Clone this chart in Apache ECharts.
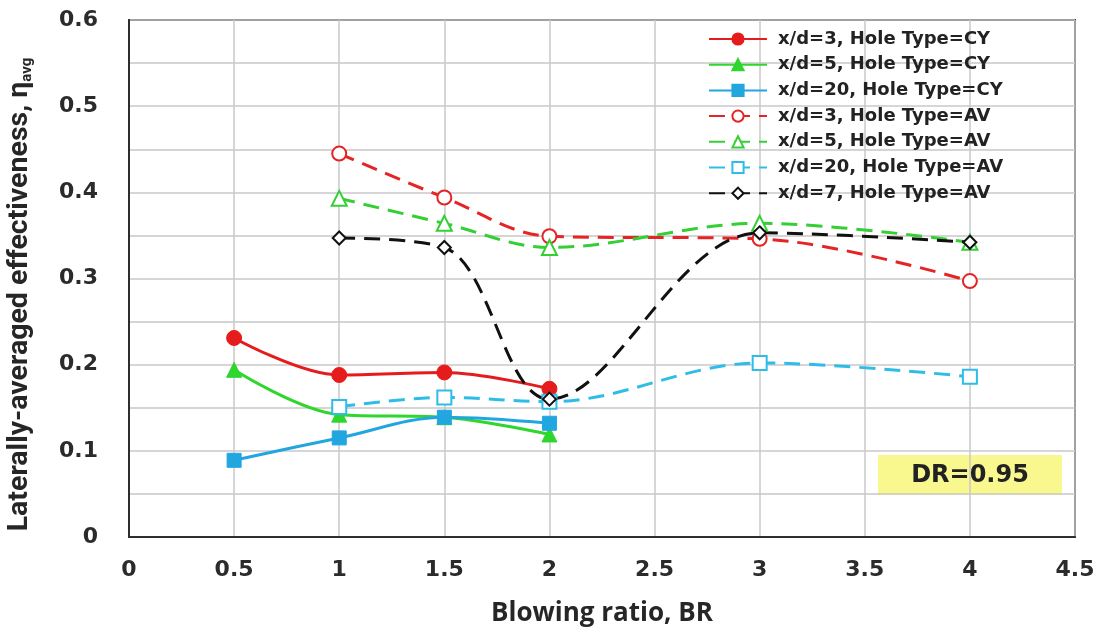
<!DOCTYPE html>
<html>
<head>
<meta charset="utf-8">
<script src="https://cdn.jsdelivr.net/npm/echarts@6/dist/echarts.min.js"></script>
<style>
  html, body { margin: 0; padding: 0; background: #fff; }
  #chart { width: 1097px; height: 634px; }
</style>
</head>
<body>
<div id="chart"></div>
<script>
// blowing ratio values
const brCY = [0.5, 1, 1.5, 2];
const brAV = [1, 1.5, 2, 3, 4];

// cylindrical holes
const cy3 = [0.231, 0.188, 0.191, 0.172];
const cy5 = [0.194, 0.142, 0.139, 0.119];
const cy20 = [0.089, 0.115, 0.139, 0.132];

// AV holes
const av3 = [0.445, 0.394, 0.349, 0.346, 0.297];
const av5 = [0.393, 0.364, 0.336, 0.364, 0.342];
const av20 = [0.151, 0.162, 0.157, 0.202, 0.186];
const av7 = [0.347, 0.336, 0.160, 0.353, 0.342];

const seriesNames = [
  "x/d=3, Hole Type=CY",
  "x/d=5, Hole Type=CY",
  "x/d=20, Hole Type=CY",
  "x/d=3, Hole Type=AV",
  "x/d=5, Hole Type=AV",
  "x/d=20, Hole Type=AV",
  "x/d=7, Hole Type=AV",
];

const pair = (xs, ys) => xs.map((x, i) => [x, ys[i]]);

const tickFont = {
  fontFamily: "DejaVu Sans",
  fontWeight: "bold",
  fontSize: 22,
  color: "#2b2b2b",
};

//实线 + 实心点
const solid = (name, xs, ys, color, symbol, size) => ({
  name,
  type: "line",
  data: pair(xs, ys),
  smooth: 0.35,
  symbol,
  symbolSize: size,
  lineStyle: { color, width: 3 },
  itemStyle: { color, borderColor: color, borderWidth: 1 },
});

//虚线 + 空心点
const dashed = (name, xs, ys, color, symbol, size) => ({
  name,
  type: "line",
  data: pair(xs, ys),
  smooth: 0.35,
  symbol,
  symbolSize: size,
  lineStyle: { color, width: 3, type: [16, 9] },
  itemStyle: { color: "#fff", borderColor: color, borderWidth: 2 },
});

const chart = echarts.init(document.getElementById("chart"));
chart.setOption({
  animation: false,
  backgroundColor: "#fff",
  grid: {
    left: 129,
    right: 22,
    top: 20,
    bottom: 97,
    outerBoundsMode: "none",
    show: true,
    borderColor: "#2e2e2e",
    borderWidth: 2,
  },
  legend: {
    orient: "vertical",
    left: 703,
    top: 25,
    itemWidth: 58,
    itemHeight: 14,
    itemGap: 7.7,
    data: seriesNames,
    textStyle: {
      fontFamily: "DejaVu Sans",
      fontWeight: "bold",
      fontSize: 18,
      color: "#222",
      padding: [0, 0, 0, 6],
    },
  },
  xAxis: {
    type: "value",
    min: 0,
    max: 4.5,
    interval: 0.5,
    name: "Blowing ratio, BR",
    nameLocation: "middle",
    nameGap: 64,
    nameTextStyle: {
      fontFamily: "Open Sans",
      fontWeight: "bold",
      fontSize: 26,
      color: "#262626",
    },
    axisLine: { show: true, lineStyle: { color: "#2e2e2e", width: 2 } },
    axisTick: { show: false },
    axisLabel: Object.assign({ margin: 22 }, tickFont),
    splitLine: { show: true, lineStyle: { color: "#c8c8c8", width: 1.5 } },
  },
  yAxis: {
    type: "value",
    min: 0,
    max: 0.6,
    interval: 0.1,
    name: "{m|Laterally-averaged effectiveness, η}{s|avg}",
    nameLocation: "middle",
    nameGap: 94,
    nameTextStyle: {
      padding: [0, 32, 0, 0],
      rich: {
        m: {
          fontFamily: "Roboto",
          fontWeight: "bold",
          fontSize: 28.5,
          color: "#262626",
          lineHeight: 30,
        },
        s: {
          fontFamily: "Roboto",
          fontWeight: "bold",
          fontSize: 15,
          color: "#262626",
          verticalAlign: "bottom",
          lineHeight: 26,
        },
      },
    },
    axisLine: { show: true, lineStyle: { color: "#2e2e2e", width: 2 } },
    axisTick: { show: false },
    axisLabel: Object.assign({ margin: 31, formatter: (v) => (v === 0 ? "0" : v.toFixed(1)) }, tickFont),
    splitLine: { show: true, lineStyle: { color: "#c8c8c8", width: 1.5 } },
    minorTick: { show: false, splitNumber: 2 },
    minorSplitLine: { show: true, lineStyle: { color: "#c8c8c8", width: 1.5 } },
  },
  graphic: [
    {
      type: "group",
      left: 878,
      top: 455,
      children: [
        {
          type: "rect",
          shape: { x: 0, y: 0, width: 184, height: 40 },
          style: { fill: "#f9f88e" },
        },
        {
          type: "text",
          x: 92,
          y: 21,
          style: {
            text: "DR=0.95",
            fontFamily: "DejaVu Sans",
            fontWeight: "bold",
            fontSize: 24,
            fill: "#222",
            align: "center",
            verticalAlign: "middle",
          },
        },
      ],
    },
  ],
  series: [
    solid(seriesNames[0], brCY, cy3, "#e61c1c", "circle", 15),
    solid(seriesNames[1], brCY, cy5, "#2ed62e", "triangle", 15),
    solid(seriesNames[2], brCY, cy20, "#22a6e0", "rect", 14),
    dashed(seriesNames[3], brAV, av3, "#e52525", "circle", 14),
    dashed(seriesNames[4], brAV, av5, "#34cf34", "triangle", 15),
    dashed(seriesNames[5], brAV, av20, "#2fbde8", "rect", 14),
    dashed(seriesNames[6], brAV, av7, "#111", "diamond", 13),
  ],
});
</script>
</body>
</html>
